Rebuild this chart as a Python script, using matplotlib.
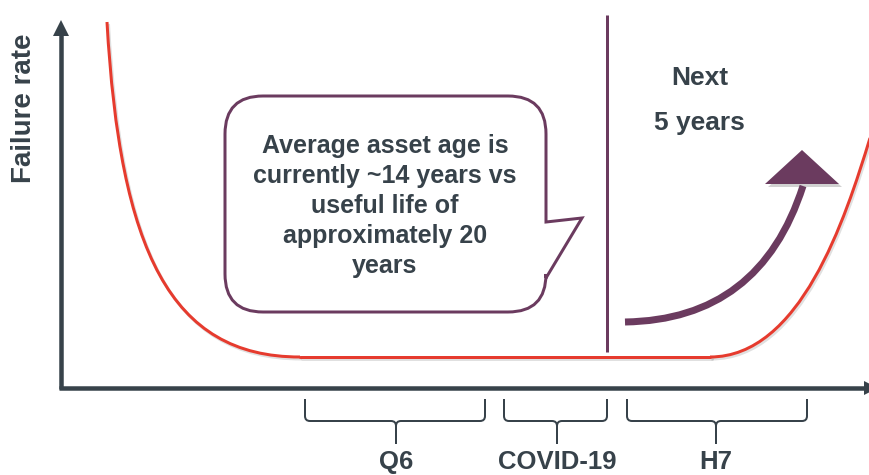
import matplotlib
matplotlib.use("Agg")
import matplotlib.pyplot as plt
from matplotlib.path import Path
from matplotlib.patches import PathPatch, Polygon

# Diagram laid out on a canvas measured in pixels (origin top-left)
W, H = 869, 475

# Bathtub failure-rate curve: early failures, flat useful life, wear-out
early_ctrl_x = [107, 120, 170, 300]
early_ctrl_y = [22, 250, 357, 357]
flat_x = [300, 710]
flat_y = [357, 357]
wear_ctrl_x = [710, 800, 845, 870]
wear_ctrl_y = [357, 357, 220, 138]

# Period brackets below the time axis
periods = ["Q6", "COVID-19", "H7"]
period_start = [305, 504, 627]
period_end = [485, 607, 807]
period_mid = [396, 557, 716]

# "Today" marker
today_x = 607

bubble_lines = ["Average asset age is", "currently ~14 years vs",
                "useful life of", "approximately 20", "years"]

DARK = "#37424a"
PURPLE = "#6b3b5f"
RED = "#e63b2e"
FONT = "Liberation Sans"

fig = plt.figure(figsize=(W / 100, H / 100), dpi=100)
ax = fig.add_axes([0, 0, 1, 1])
ax.set_xlim(0, W)
ax.set_ylim(H, 0)
ax.axis("off")

px = 0.72  # points per pixel at 100 dpi


def bezier(xs, ys):
    return Path(list(zip(xs, ys)), [Path.MOVETO, Path.CURVE4, Path.CURVE4, Path.CURVE4])


# Axes arrows
ax.plot([61, 61], [389, 34], color=DARK, lw=4.5 * px, solid_capstyle="butt", zorder=3)
ax.add_patch(Polygon([(53, 36), (69, 36), (61, 20)], closed=True, color=DARK, lw=0, zorder=3))
ax.plot([59, 866], [388, 388], color=DARK, lw=4.5 * px, solid_capstyle="butt", zorder=3)
ax.add_patch(Polygon([(864, 381), (864, 395), (878, 388)], closed=True, color=DARK, lw=0, zorder=3))

# Bathtub curve (with a soft shadow)
for dx, dy, col, alpha, z in [(1.5, 2.0, "#000000", 0.12, 1), (0, 0, RED, 1.0, 2)]:
    for xs, ys in [(early_ctrl_x, early_ctrl_y), (wear_ctrl_x, wear_ctrl_y)]:
        p = bezier([x + dx for x in xs], [y + dy for y in ys])
        ax.add_patch(PathPatch(p, fill=False, edgecolor=col, alpha=alpha, lw=3 * px, zorder=z))
    ax.plot([x + dx for x in flat_x], [y + dy for y in flat_y], color=col, alpha=alpha,
            lw=3 * px, zorder=z, solid_capstyle="round")

# Today marker line
ax.plot([today_x, today_x], [15, 352], color=PURPLE, lw=3 * px, solid_capstyle="butt", zorder=3)

# Speech bubble
L, R, T, B, r = 225, 546, 96, 312, 38
verts = [
    (L + r, T), (R - r, T), (R, T), (R, T + r),
    (R, 222), (582, 218), (R, 278),
    (R, B - r), (R, B), (R - r, B),
    (L + r, B), (L, B), (L, B - r),
    (L, T + r), (L, T), (L + r, T),
    (L + r, T),
]
codes = [Path.MOVETO, Path.LINETO, Path.CURVE3, Path.CURVE3,
         Path.LINETO, Path.LINETO, Path.LINETO,
         Path.LINETO, Path.CURVE3, Path.CURVE3,
         Path.LINETO, Path.CURVE3, Path.CURVE3,
         Path.LINETO, Path.CURVE3, Path.CURVE3,
         Path.CLOSEPOLY]
ax.add_patch(PathPatch(Path(verts, codes), facecolor="white", edgecolor=PURPLE,
                       lw=3 * px, joinstyle="miter", zorder=4))
baselines = [153, 183, 213, 243, 273]
for line, yb in zip(bubble_lines, baselines):
    ax.text(385, yb, line, ha="center", va="baseline", fontsize=18, fontweight="bold",
            color=DARK, family=FONT, zorder=5)

# Rising failure-rate arrow
shaft = Path([(625, 322), (760, 320), (803, 186)], [Path.MOVETO, Path.CURVE3, Path.CURVE3])
ax.add_patch(PathPatch(shaft, fill=False, edgecolor=PURPLE, lw=7 * px, capstyle="butt", zorder=4))
ax.add_patch(Polygon([(768, 187), (842, 187), (805, 154)], closed=True, color="#000000",
                     alpha=0.18, lw=0, zorder=3))
ax.add_patch(Polygon([(765, 184), (839, 184), (802, 150)], closed=True, color=PURPLE, lw=0, zorder=5))

ax.text(700, 85, "Next", ha="center", va="baseline", fontsize=19, fontweight="bold",
        color=DARK, family=FONT)
ax.text(699, 130, "5 years", ha="center", va="baseline", fontsize=19, fontweight="bold",
        color=DARK, family=FONT)

# Axis title
ax.text(24, 108, "Failure rate", rotation=90, ha="center", va="center", fontsize=20,
        fontweight="bold", color=DARK, family=FONT)

# Period brackets and labels
top, bar, tip, c = 399, 421, 444, 5
for name, x0, x1, xm in zip(periods, period_start, period_end, period_mid):
    bv = [(x0, top), (x0, bar - c), (x0, bar), (x0 + c, bar),
          (xm - c, bar), (xm, bar), (xm, bar + c), (xm, tip)]
    bc = [Path.MOVETO, Path.LINETO, Path.CURVE3, Path.CURVE3,
          Path.LINETO, Path.CURVE3, Path.CURVE3, Path.LINETO]
    ax.add_patch(PathPatch(Path(bv, bc), fill=False, edgecolor=DARK, lw=2 * px, zorder=3))
    bv2 = [(x1, top), (x1, bar - c), (x1, bar), (x1 - c, bar),
           (xm + c, bar), (xm, bar), (xm, bar + c)]
    bc2 = [Path.MOVETO, Path.LINETO, Path.CURVE3, Path.CURVE3,
           Path.LINETO, Path.CURVE3, Path.CURVE3]
    ax.add_patch(PathPatch(Path(bv2, bc2), fill=False, edgecolor=DARK, lw=2 * px, zorder=3))
    ax.text(xm, 469, name, ha="center", va="baseline", fontsize=18.5, fontweight="bold",
            color=DARK, family=FONT)

fig.savefig("out.png", dpi=100)
